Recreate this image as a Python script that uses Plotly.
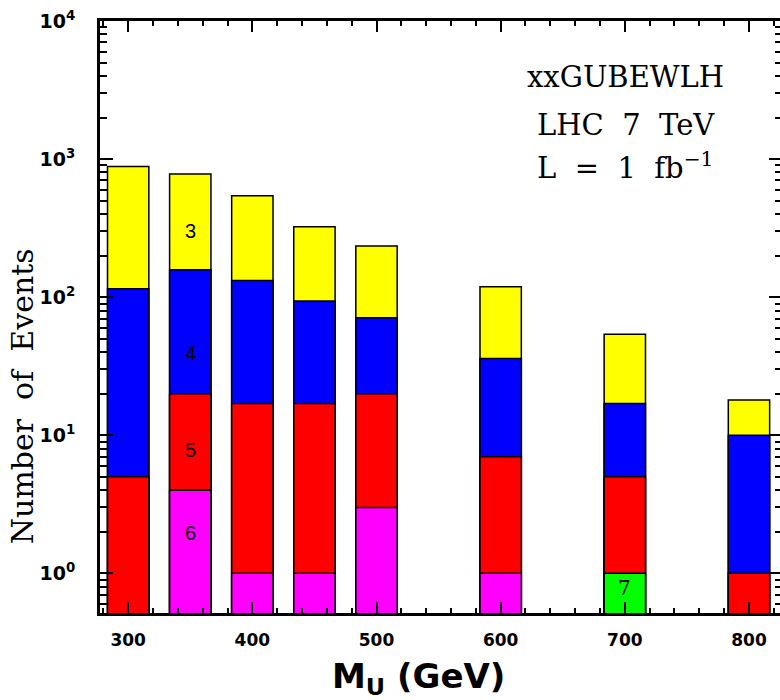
import plotly.graph_objects as go

# Masses (GeV) and cumulative bar tops
masses = [300, 350, 400, 450, 500, 600, 700, 800]
top_3 = [883, 780, 542, 324, 235, 119, 54, 18]
top_4 = [115, 158, 132, 94, 71, 36, 17, 10]
top_5 = [5, 20, 17, 17, 20, 7, 5, 1]
top_6 = [None, 4, 1, 1, 3, 1, None, None]
top_7 = [None, None, None, None, None, None, 1, None]

series = [
    ("3", top_3, "#FFFF00"),
    ("4", top_4, "#0000FF"),
    ("5", top_5, "#FF0000"),
    ("6", top_6, "#FF00FF"),
    ("7", top_7, "#00FF00"),
]

ytick_vals = [1, 10, 100, 1000, 10000]
ytick_text = ["10<sup>0</sup>", "10<sup>1</sup>", "10<sup>2</sup>", "10<sup>3</sup>", "10<sup>4</sup>"]
yminor_vals = [k * 10 ** n for n in range(-1, 4) for k in range(2, 10)]

fig = go.Figure()
for name, vals, col in series:
    fig.add_trace(go.Bar(
        x=masses, y=vals, name=name, width=33.3,
        marker=dict(color=col, line=dict(color="black", width=1.5)),
        showlegend=False,
    ))

# plot frame continues just past the right edge of the 780px view
W, H = 785, 700
L, R, T, B = 100, 0, 21, 87
fig.update_layout(
    width=W, height=H,
    margin=dict(l=L, r=R, t=T, b=B),
    paper_bgcolor="white", plot_bgcolor="white",
    barmode="overlay",
    xaxis=dict(
        range=[277.3, 826.6], tickmode="linear", tick0=0, dtick=100,
        ticks="inside", ticklen=11, tickwidth=2, tickcolor="black",
        showline=True, linewidth=3, linecolor="black", mirror="allticks",
        showgrid=False, zeroline=False,
        tickfont=dict(family="DejaVu Sans", size=17, color="black", weight="bold"),
        ticklabelstandoff=10,
        minor=dict(tickmode="linear", tick0=0, dtick=20, ticks="inside",
                   ticklen=5, tickwidth=1.5, tickcolor="black", showgrid=False),
    ),
    yaxis=dict(
        type="log", range=[-0.287, 4.0],
        tickmode="array", tickvals=ytick_vals, ticktext=ytick_text,
        ticks="inside", ticklen=13, tickwidth=2, tickcolor="black",
        showline=True, linewidth=3, linecolor="black", mirror="allticks",
        showgrid=False, zeroline=False,
        tickfont=dict(family="DejaVu Sans", size=19, color="black", weight="bold"),
        ticklabelstandoff=18,
        minor=dict(tickmode="array", tickvals=yminor_vals, ticks="inside",
                   ticklen=7, tickwidth=1.5, tickcolor="black", showgrid=False),
    ),
)

pw = W - L - R
serif = "DejaVu Serif"
nb = "\u00a0"
ann = [
    dict(text="<b>M<sub>U</sub> (GeV)</b>", x=(420 - L) / pw, y=-0.11, xref="paper", yref="paper",
         xanchor="center", yanchor="middle", showarrow=False,
         font=dict(family="DejaVu Sans", size=34, color="black")),
    dict(text=f"Number{nb}{nb}of{nb}{nb}Events", x=(23 - L) / pw, y=0.3666, xref="paper", yref="paper",
         xanchor="center", yanchor="middle", textangle=-90, showarrow=False,
         font=dict(family=serif, size=30, color="black")),
    dict(text="xxGUBEWLH", x=(628 - L) / pw, y=0.905, xref="paper", yref="paper",
         xanchor="center", yanchor="middle", showarrow=False,
         font=dict(family=serif, size=29, color="black")),
    dict(text=f"LHC{nb}{nb}7{nb}{nb}TeV", x=(628 - L) / pw, y=0.824, xref="paper", yref="paper",
         xanchor="center", yanchor="middle", showarrow=False,
         font=dict(family=serif, size=29, color="black")),
    dict(text=f"L{nb}{nb}={nb}{nb}1{nb}{nb}fb<sup>\u22121</sup>", x=(628 - L) / pw, y=0.755, xref="paper", yref="paper",
         xanchor="center", yanchor="middle", showarrow=False,
         font=dict(family=serif, size=29, color="black")),
]
# segment labels inside bars (positions in axis units, log10 for y)
seg_labels = [("3", 350, 2.478), ("4", 350, 1.594), ("5", 350, 0.891), ("6", 350, 0.290), ("7", 700, -0.109)]
for txt, xv, yv in seg_labels:
    ann.append(dict(text=txt, x=xv, y=yv, xref="x", yref="y", showarrow=False,
                    xanchor="center", yanchor="middle",
                    font=dict(family="Liberation Sans" if txt != "7" else serif, size=20, color="black")))
fig.update_layout(annotations=ann)

fig.write_html("out.html", config={"displayModeBar": False},
               post_script="document.body.style.margin='0';document.body.style.overflow='hidden';")
